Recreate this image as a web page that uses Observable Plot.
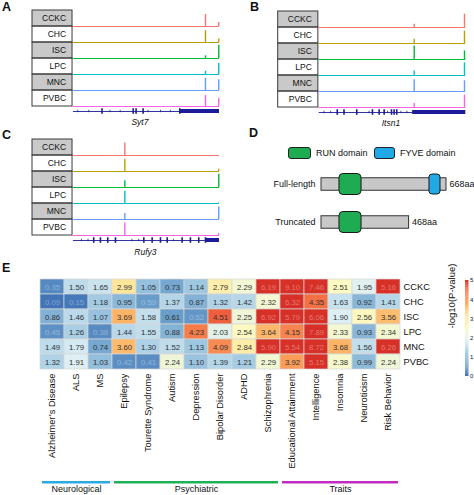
<!DOCTYPE html>
<html><head><meta charset="utf-8">
<script src="https://cdn.jsdelivr.net/npm/d3@7"></script>
<script src="https://cdn.jsdelivr.net/npm/@observablehq/plot@0.6"></script>
<style>
body{margin:0;background:#fff;font-family:"Liberation Sans",Arial,sans-serif;}
#root{position:relative;width:474px;height:495px;overflow:hidden;background:#fff;}
.plab{position:absolute;font-weight:bold;font-size:12.5px;color:#111;}
.leg{position:absolute;font-size:9px;color:#111;}
.box{position:absolute;border:1px solid #222;border-radius:3px;box-sizing:border-box;}
</style></head><body><div id="root"></div>
<script>
const FONT = '"Liberation Sans", Arial, sans-serif';
const NAVY = "#1c1c9a";
// ---- cell types ----
const cells = ["CCKC","CHC","ISC","LPC","MNC","PVBC"];
const cellColors = ["#F8766D","#B79F00","#00BA38","#00BFC4","#619CFF","#F564E3"];

// ---- Panel A: Syt7 tracks (positions in % of locus) ----
const sytPeakPos = [90.4, 99.5];
const sytPeakH = [[12,4],[11.7,3.4],[2.7,13.3],[3.3,11],[12.3,10.7],[11,8.3]];
const sytExons = [19.6, 40.9, 42.9, 47.7, 72.8];
const sytIntronMarks = [3, 10.5, 25, 32, 51, 59.6, 66.4];
const sytUtr = [72.8, 100];

// ---- Panel B: Itsn1 tracks ----
const itsnPeakPos = [64.8, 99.1];
const itsnPeakH = [[3.3,13.3],[4.3,12.3],[13.6,8.6],[4.6,12.6],[11.7,10.7],[4,12.3]];
const itsnExons = [12.3, 16.9, 25.6, 36.3, 40.9, 44.3, 49.3, 51.1, 52.9];
const itsnIntronMarks = [3.2, 7.8, 34, 46.6, 55.7, 59.8];
const itsnUtr = [63.7, 100];

// ---- Panel C: Rufy3 tracks ----
const rufyPeakPos = [35.2, 99.5];
const rufyPeakH = [[12.6,0],[12.3,2.3],[6.7,13.3],[12.3,0.5],[6,12.6],[12.6,2]];
const rufyExons = [13.9, 18.5, 23.5, 28.8, 48.2, 53.9, 59.6, 64.2, 74.4, 80.1, 85.8, 90.4];
const rufyIntronMarks = [5.5, 10, 40, 44.7, 68.5];
const rufyUtr = [90.4, 100];

// ---- Panel D: protein ----
const proteins = ["Full-length","Truncated"];
const proteinLength = [668, 468];
const runDomain = [96, 214];
const fyveDomain = [577, 636];

// ---- Panel E: heatmap ----
const diseases = ["Alzheimer’s Disease","ALS","MS","Epilepsy","Tourette Syndrome","Autism","Depression","Bipolar Disorder","ADHD","Schizophrenia","Educational Attainment","Intelligence","Insomnia","Neuroticism","Risk Behavior"];
const scoreCCKC = [0.35,1.50,1.65,2.99,1.05,0.73,1.14,2.79,2.29,6.19,9.10,7.46,2.51,1.95,5.16];
const scoreCHC  = [0.09,0.15,1.18,0.95,0.59,1.37,0.87,1.32,1.42,2.32,6.32,4.35,1.63,0.92,1.41];
const scoreISC  = [0.86,1.46,1.07,3.69,1.58,0.61,0.52,4.51,2.25,6.92,5.79,6.06,1.90,2.56,3.56];
const scoreLPC  = [0.45,1.26,0.38,1.44,1.55,0.88,4.23,2.03,2.54,3.64,4.15,7.89,2.33,0.93,2.34];
const scoreMNC  = [1.49,1.79,0.74,3.60,1.30,1.52,1.13,4.09,2.84,5.90,5.54,8.72,3.68,1.56,6.26];
const scorePVBC = [1.32,1.91,1.03,0.42,0.41,2.24,1.10,1.39,1.21,2.29,3.92,5.15,2.38,0.99,2.24];
const groupNames = ["Neurological","Psychiatric","Traits"];
const groupStart = [0, 3, 10];
const groupEnd = [3, 10, 15];
const groupColors = ["#29abe2","#1db25a","#c42bc4"];
const colorStops = ["#3b6db3","#6a9fcc","#a9cfe5","#dbeef5","#fdfbc4","#fee08f","#fdae61","#f46d43","#d73027"];
const legendTicks = [0,1,2,3,4,5];

const root = document.getElementById("root");
function place(el, left, top) {
  el.style.position = "absolute"; el.style.left = left + "px"; el.style.top = top + "px";
  root.appendChild(el);
}
function addDiv(cls, html, left, top, extra) {
  const d = document.createElement("div"); d.className = cls; d.innerHTML = html;
  d.style.left = left + "px"; d.style.top = top + "px";
  if (extra) Object.assign(d.style, extra);
  root.appendChild(d);
}

const rowH = 16;
function trackPlot(cfg) {
  const base = c => (cells.length - cells.indexOf(c)) * rowH;
  const peaks = cells.flatMap((c,i) => cfg.peakPos.map((p,j) => ({cell: c, pos: p, h: cfg.peakH[i][j]})));
  const grayRows = cells.filter((c,i) => i % 2 === 0);
  const whiteRows = cells.filter((c,i) => i % 2 === 1);
  const lineY = 11;
  return Plot.plot({
    width: cfg.width, height: cfg.marginTop + 7*rowH + 6,
    marginLeft: cfg.marginLeft, marginRight: cfg.marginRight, marginTop: cfg.marginTop, marginBottom: 6,
    x: {domain: [-28, 100], axis: null},
    y: {domain: [0, 7*rowH], axis: null},
    color: {domain: cells, range: cellColors},
    style: {fontFamily: FONT, fontSize: "8.5px", background: "transparent", overflow: "visible"},
    marks: [
      Plot.rect(grayRows, {x1: () => -28, x2: () => -0.6, y1: base, y2: c => base(c) + rowH, fill: "#c9c9c9"}),
      Plot.rect(whiteRows, {x1: () => -28, x2: () => -0.6, y1: base, y2: c => base(c) + rowH, fill: "white"}),
      Plot.rect(cells, {x1: () => -28, x2: () => -0.6, y1: base, y2: c => base(c) + rowH, fill: "none", stroke: "#3a3a3a", strokeWidth: 1}),
      Plot.text(cells, {x: () => -5, y: c => base(c) + rowH/2, text: d => d, textAnchor: "end", fill: "#111", fontSize: 8.5}),
      Plot.ruleY(cells, {y: base, x1: () => 0, x2: () => 100, stroke: d => d, strokeWidth: 1}),
      Plot.ruleX(peaks, {x: "pos", y1: d => base(d.cell), y2: d => base(d.cell) + d.h, stroke: "cell", strokeWidth: 1.4}),
      Plot.ruleY([cfg.gene], {y: () => lineY, x1: () => 0, x2: () => cfg.utr[0], stroke: NAVY, strokeWidth: 0.9}),
      Plot.ruleX(cfg.introns, {x: d => d, y1: () => lineY - 1.2, y2: () => lineY + 1.2, stroke: NAVY, strokeWidth: 0.8}),
      Plot.ruleX(cfg.exons, {x: d => d, y1: () => lineY - 2.8, y2: () => lineY + 2.8, stroke: NAVY, strokeWidth: 1.6}),
      Plot.rect([cfg.utr], {x1: d => d[0], x2: d => d[1], y1: () => lineY - 2, y2: () => lineY + 2, fill: NAVY}),
      Plot.text([cfg.gene], {x: () => cfg.labelX, y: () => cfg.labelY, text: d => d, fontStyle: "italic", fontSize: 8.5, fill: "#111"})
    ]
  });
}

place(trackPlot({width: 237, marginLeft: 32, marginRight: 18, marginTop: 10, peakPos: sytPeakPos, peakH: sytPeakH,
  exons: sytExons, introns: sytIntronMarks, utr: sytUtr, gene: "Syt7", labelX: 45.5, labelY: 0}), 0, 0);
place(trackPlot({width: 228, marginLeft: 31.7, marginRight: 8.7, marginTop: 11, peakPos: itsnPeakPos, peakH: itsnPeakH,
  exons: itsnExons, introns: itsnIntronMarks, utr: itsnUtr, gene: "Itsn1", labelX: 48.9, labelY: 0}), 246, 0);
place(trackPlot({width: 237, marginLeft: 32, marginRight: 18, marginTop: 10, peakPos: rufyPeakPos, peakH: rufyPeakH,
  exons: rufyExons, introns: rufyIntronMarks, utr: rufyUtr, gene: "Rufy3", labelX: 49.3, labelY: -1}), 0, 129);

// Panel D protein diagram
const protData = proteins.map((p,i) => ({name: p, len: proteinLength[i]}));
place(Plot.plot({
  width: 237, height: 77, marginLeft: 84, marginRight: 28, marginTop: 0, marginBottom: 0,
  x: {domain: [0, 668], axis: null},
  y: {domain: proteins, padding: 0, tickSize: 0, tickPadding: 6, label: null},
  style: {fontFamily: FONT, fontSize: "9px", color: "#111", background: "transparent", overflow: "visible"},
  marks: [
    Plot.barX(protData, {x1: () => 0, x2: "len", y: "name", fill: "#c8c8c8", stroke: "#333", strokeWidth: 1, insetTop: 12.75, insetBottom: 12.75}),
    Plot.barX(protData, {x1: () => runDomain[0], x2: () => runDomain[1], y: "name", fill: "#1eab52", stroke: "#1a1a1a", strokeWidth: 1, rx: 4, insetTop: 8.5, insetBottom: 8.5}),
    Plot.barX(protData.filter(d => d.len >= fyveDomain[1]), {x1: () => fyveDomain[0], x2: () => fyveDomain[1], y: "name", fill: "#1fa9e6", stroke: "#1a1a1a", strokeWidth: 1, rx: 3, insetTop: 9, insetBottom: 9}),
    Plot.text(protData, {x: "len", y: "name", text: d => d.len + "aa", textAnchor: "start", dx: 3, fontSize: 9, fill: "#111"})
  ]
}), 237, 164);
// legend for D
addDiv("box", "", 288, 147, {width: "23px", height: "12px", background: "#1eab52"});
addDiv("leg", "RUN domain", 316, 148);
addDiv("box", "", 374, 147, {width: "21px", height: "12px", background: "#1fa9e6"});
addDiv("leg", "FYVE domain", 400, 148);

// Panel E heatmap
const rowsScores = [scoreCCKC, scoreCHC, scoreISC, scoreLPC, scoreMNC, scorePVBC];
const heat = cells.flatMap((c,i) => diseases.map((d,j) => ({cell: c, disease: d, v: rowsScores[i][j]})));
const colorOpts = {type: "linear", domain: colorStops.map((_,i) => i * 5 / (colorStops.length - 1)), range: colorStops, clamp: true};
const isLight = d => d.v < 0.6 || d.v > 5;
place(Plot.plot({
  width: 474, height: 232, marginLeft: 40, marginRight: 74, marginTop: 14, marginBottom: 125,
  x: {domain: diseases, padding: 0, tickRotate: -90, tickSize: 0, tickPadding: 3, label: null},
  y: {domain: cells, padding: 0, axis: "right", tickSize: 0, tickPadding: 3, label: null},
  color: colorOpts,
  style: {fontFamily: FONT, fontSize: "9.3px", color: "#111", background: "transparent", overflow: "visible"},
  marks: [
    Plot.cell(heat, {x: "disease", y: "cell", fill: "v", stroke: "#d8d8d8", strokeWidth: 0.7}),
    Plot.text(heat.filter(d => !isLight(d)), {x: "disease", y: "cell", text: d => d.v.toFixed(2), fill: "#333", fontSize: 7.8}),
    Plot.text(heat.filter(isLight), {x: "disease", y: "cell", text: d => d.v.toFixed(2), fill: "white", fillOpacity: 0.35, fontSize: 7.8})
  ]
}), 0, 263);

// group bars
const groups = groupNames.map((g,i) => ({name: g, s: groupStart[i], e: groupEnd[i], c: groupColors[i]}));
place(Plot.plot({
  width: 474, height: 19, marginLeft: 40, marginRight: 74, marginTop: 3, marginBottom: 13.5,
  x: {domain: [0, 15], axis: null},
  style: {fontFamily: FONT, fontSize: "9px", background: "transparent", overflow: "visible"},
  marks: [
    ...groups.map(g => Plot.rect([g], {x1: "s", x2: "e", fill: g.c, insetLeft: 2, insetRight: 2})),
    Plot.text(groups, {x: d => (d.s + d.e) / 2, text: "name", frameAnchor: "bottom", dy: 8, fill: "#111", fontSize: 9})
  ]
}), 0, 478);

// colour bar
const stops = d3.range(0, 5, 0.05);
place(Plot.plot({
  width: 34, height: 115, marginLeft: 25, marginRight: 5.5, marginTop: 10, marginBottom: 9,
  x: {domain: [0, 1], axis: null},
  y: {domain: [0, 5], axis: null},
  color: colorOpts,
  style: {fontFamily: FONT, fontSize: "7px", background: "transparent", overflow: "visible"},
  marks: [
    Plot.rect(stops, {x1: () => 0, x2: () => 1, y1: d => d, y2: d => d + 0.05, fill: d => d + 0.025}),
    Plot.text(legendTicks, {x: () => 1, y: d => d, text: d => String(d), textAnchor: "start", dx: 1, fontSize: 6, fill: "#111"}),
    Plot.text(["-log10(P-value)"], {frameAnchor: "left", rotate: -90, dx: -14, fontSize: 9.5, fill: "#111"})
  ]
}), 440, 270);

// panel letters
addDiv("plab", "A", 2, 0);
addDiv("plab", "B", 250, 0);
addDiv("plab", "C", 2, 128);
addDiv("plab", "D", 249, 126);
addDiv("plab", "E", 2, 261);
</script></body></html>
